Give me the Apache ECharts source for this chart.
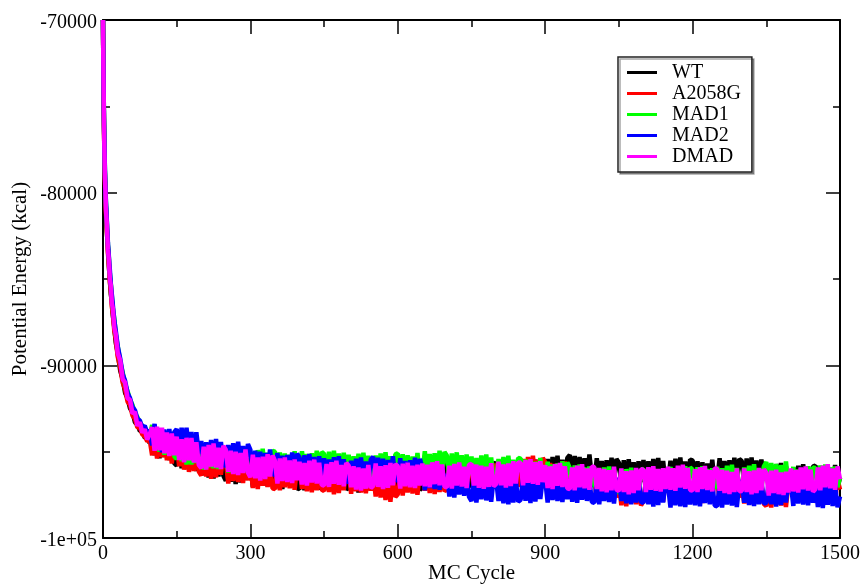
<!DOCTYPE html>
<html>
<head>
<meta charset="utf-8">
<title>Potential Energy vs MC Cycle</title>
<script src="https://cdn.jsdelivr.net/npm/echarts@6/dist/echarts.min.js"></script>
<style>
  html, body { margin: 0; padding: 0; background: #fff; }
  #chart { width: 863px; height: 584px; }
</style>
</head>
<body>
<div id="chart"></div>
<script>
// Monte Carlo cycles at which the potential energy was sampled
const earlyCycles = [0,1,2,3,4,5,6,8,10,12,14,16,18,20,23,26,30,35,40,45,50,55,60,65,70,75,80,85,90,95];
const sampleStep = 5;
const lastCycle = 1500;

// Potential energy (kcal) per system
const wtEnergy = [
  -70000,-73600,-76100,-78000,-79200,-80300,-81000,-82300,-83200,-84300,
  -85000,-85900,-86300,-87100,-87800,-88700,-89300,-90300,-90800,-91600,
  -91900,-92500,-92700,-93300,-93400,-93800,-93800,-94200,-94200,-94500,
  -93830,-95210,-94020,-95380,-93990,-95310,-94040,-95490,-94330,-95670,
  -95810,-94600,-95960,-94560,-95840,-94550,-95970,-94850,-96120,-94810,
  -95100,-96360,-95150,-96490,-95210,-96550,-95280,-96440,-95070,-96400,
  -96680,-95380,-96740,-95540,-96870,-95490,-96790,-95350,-96640,-95420,
  -95740,-97040,-95600,-96900,-95540,-96960,-95710,-97010,-95660,-96860,
  -95780,-97100,-95860,-97160,-95720,-96980,-95660,-97050,-95840,-97120,
  -97160,-95920,-97240,-95810,-97060,-95730,-97120,-95970,-97200,-95860,
  -95800,-97060,-95850,-97190,-95910,-97250,-95980,-97140,-95770,-97100,
  -97180,-95880,-97240,-96040,-97370,-95990,-97290,-95850,-97140,-95920,
  -95940,-97240,-95800,-97100,-95740,-97160,-95910,-97210,-95860,-97060,
  -95880,-97200,-95960,-97260,-95820,-97080,-95760,-97150,-95940,-97220,
  -97060,-95820,-97140,-95710,-96960,-95630,-97020,-95870,-97100,-95760,
  -95700,-96960,-95750,-97090,-95810,-97150,-95880,-97040,-95670,-97000,
  -96880,-95580,-96940,-95740,-97070,-95690,-96990,-95550,-96840,-95620,
  -95740,-97040,-95600,-96900,-95540,-96960,-95710,-97010,-95660,-96860,
  -95580,-96900,-95660,-96960,-95520,-96780,-95460,-96850,-95640,-96920,
  -96660,-95420,-96740,-95310,-96560,-95230,-96620,-95470,-96700,-95360,
  -95200,-96460,-95250,-96590,-95310,-96650,-95380,-96540,-95170,-96500,
  -96680,-95380,-96740,-95540,-96870,-95490,-96790,-95350,-96640,-95420,
  -95640,-96940,-95500,-96800,-95440,-96860,-95610,-96910,-95560,-96760,
  -95480,-96800,-95560,-96860,-95420,-96680,-95360,-96750,-95540,-96820,
  -96760,-95520,-96840,-95410,-96660,-95330,-96720,-95570,-96800,-95460,
  -95500,-96760,-95550,-96890,-95610,-96950,-95680,-96840,-95470,-96800,
  -96680,-95380,-96740,-95540,-96870,-95490,-96790,-95350,-96640,-95420,
  -95540,-96840,-95400,-96700,-95340,-96760,-95510,-96810,-95460,-96660,
  -95780,-97100,-95860,-97160,-95720,-96980,-95660,-97050,-95840,-97120,
  -97160,-95920,-97240,-95810,-97060,-95730,-97120,-95970,-97200,-95860,
  -95800,-97060,-95850,-97190,-95910,-97250,-95980,-97140,-95770,-97100,
  -96500
];

const a2058gEnergy = [
  -70000,-73700,-76200,-78100,-79300,-80200,-81100,-82200,-83500,-84200,
  -85200,-85700,-86600,-87000,-88000,-88500,-89500,-90100,-91000,-91400,
  -92100,-92300,-92900,-93100,-93600,-93600,-94000,-94100,-94400,-94300,
  -95210,-94030,-95400,-94030,-95330,-94060,-95500,-94410,-95690,-94410,
  -94550,-95840,-94670,-96040,-94790,-96170,-94930,-96120,-94790,-96150,
  -96380,-95080,-96440,-95240,-96570,-95190,-96490,-95050,-96340,-95120,
  -95540,-96840,-95400,-96700,-95340,-96760,-95510,-96810,-95460,-96660,
  -95780,-97100,-95860,-97160,-95720,-96980,-95660,-97050,-95840,-97120,
  -97160,-95920,-97240,-95810,-97060,-95730,-97120,-95970,-97200,-95860,
  -95900,-97160,-95950,-97290,-96010,-97350,-96080,-97240,-95870,-97200,
  -97280,-95980,-97340,-96140,-97470,-96090,-97390,-95950,-97240,-96020,
  -96140,-97440,-96000,-97300,-95940,-97360,-96110,-97410,-96060,-97260,
  -96280,-97600,-96360,-97660,-96220,-97800,-96160,-97900,-96340,-97620,
  -97460,-96220,-97540,-96110,-97360,-96030,-97420,-96270,-97500,-96160,
  -96000,-97260,-96050,-97390,-96110,-97450,-96180,-97340,-95970,-97300,
  -97180,-95880,-97240,-96040,-97370,-95990,-97290,-95850,-97140,-95920,
  -95940,-97240,-95800,-97100,-95740,-97160,-95910,-97210,-95860,-97060,
  -95680,-97000,-95760,-97060,-95620,-96880,-95560,-96950,-95740,-97020,
  -96660,-95420,-96740,-95310,-96560,-95230,-96620,-95470,-96700,-95360,
  -95600,-96860,-95650,-96990,-95710,-97050,-95780,-96940,-95570,-96900,
  -97380,-96080,-97440,-96240,-97570,-96190,-97490,-96050,-97340,-96120,
  -96540,-97840,-96400,-97700,-96340,-97760,-96510,-97810,-96460,-97660,
  -96780,-98100,-96860,-98160,-96720,-97980,-96660,-98050,-96840,-98120,
  -97860,-96620,-97940,-96510,-97760,-96430,-97820,-96670,-97900,-96560,
  -96400,-97660,-96450,-97790,-96510,-97850,-96580,-97740,-96370,-97700,
  -97780,-96480,-97840,-96640,-97970,-96590,-97890,-96450,-97740,-96520,
  -96540,-97840,-96400,-97700,-96340,-97760,-96510,-97810,-96460,-97660,
  -96680,-98000,-96760,-98060,-96620,-97880,-96560,-97950,-96740,-98020,
  -98160,-96920,-98240,-96810,-98060,-96730,-98120,-96970,-98200,-96860,
  -96500,-97760,-96550,-97890,-96610,-97950,-96680,-97840,-96470,-97800,
  -97880,-96580,-97940,-96740,-98070,-96690,-97990,-96550,-97840,-96620,
  -97200
];

const mad1Energy = [
  -70000,-73300,-75800,-77600,-78800,-79900,-80600,-81800,-83000,-83800,
  -84700,-85300,-86000,-86700,-87300,-88200,-88900,-89800,-90400,-91100,
  -91500,-92000,-92300,-92800,-93000,-93300,-93500,-93800,-93800,-94100,
  -93450,-94770,-93610,-95010,-93780,-95180,-93960,-95180,-93860,-95250,
  -95430,-94160,-95560,-94390,-95750,-94410,-95740,-94330,-95660,-94470,
  -94740,-96040,-94600,-95900,-94540,-95960,-94710,-96010,-94660,-95860,
  -94880,-96200,-94960,-96260,-94820,-96080,-94760,-96150,-94940,-96220,
  -96260,-95020,-96340,-94910,-96160,-94830,-96220,-95070,-96300,-94960,
  -95000,-96260,-95050,-96390,-95110,-96450,-95180,-96340,-94970,-96300,
  -96280,-94980,-96340,-95140,-96470,-95090,-96390,-94950,-96240,-95020,
  -95140,-96440,-95000,-96300,-94940,-96360,-95110,-96410,-95060,-96260,
  -95180,-96500,-95260,-96560,-95120,-96380,-95060,-96450,-95240,-96520,
  -96460,-95220,-96540,-95110,-96360,-95030,-96420,-95270,-96500,-95160,
  -95100,-96360,-95150,-96490,-95210,-96550,-95280,-96440,-95070,-96400,
  -96280,-94980,-96340,-95140,-96470,-95090,-96390,-94950,-96240,-95020,
  -95240,-96540,-95100,-96400,-95040,-96460,-95210,-96510,-95160,-96360,
  -95280,-96600,-95360,-96660,-95220,-96480,-95160,-96550,-95340,-96620,
  -96660,-95420,-96740,-95310,-96560,-95230,-96620,-95470,-96700,-95360,
  -95400,-96660,-95450,-96790,-95510,-96850,-95580,-96740,-95370,-96700,
  -96880,-95580,-96940,-95740,-97070,-95690,-96990,-95550,-96840,-95620,
  -95940,-97240,-95800,-97100,-95740,-97160,-95910,-97210,-95860,-97060,
  -95980,-97300,-96060,-97360,-95920,-97180,-95860,-97250,-96040,-97320,
  -97360,-96120,-97440,-96010,-97260,-95930,-97320,-96170,-97400,-96060,
  -96000,-97260,-96050,-97390,-96110,-97450,-96180,-97340,-95970,-97300,
  -97180,-95880,-97240,-96040,-97370,-95990,-97290,-95850,-97140,-95920,
  -96040,-97340,-95900,-97200,-95840,-97260,-96010,-97310,-95960,-97160,
  -95880,-97200,-95960,-97260,-95820,-97080,-95760,-97150,-95940,-97220,
  -97160,-95920,-97240,-95810,-97060,-95730,-97120,-95970,-97200,-95860,
  -95600,-96860,-95650,-96990,-95710,-97050,-95780,-96940,-95570,-96900,
  -97180,-95880,-97240,-96040,-97370,-95990,-97290,-95850,-97140,-95920,
  -95940,-97240,-95800,-97100,-95740,-97160,-95910,-97210,-95860,-97060,
  -96500
];

const mad2Energy = [
  -70000,-73200,-75700,-77500,-78700,-79800,-80500,-81700,-82900,-83700,
  -84500,-85300,-85900,-86500,-87400,-88000,-88900,-89600,-90500,-90900,
  -91600,-91900,-92400,-92600,-93100,-93200,-93600,-93500,-93900,-93800,
  -94630,-93390,-94800,-93660,-95040,-93720,-95070,-93690,-95030,-93870,
  -93690,-95020,-93620,-94950,-93620,-95080,-93860,-95190,-93880,-95110,
  -94380,-95700,-94460,-95760,-94320,-95580,-94260,-95650,-94440,-95720,
  -95860,-94620,-95940,-94510,-95760,-94430,-95820,-94670,-95900,-94560,
  -94900,-96160,-94950,-96290,-95010,-96350,-95080,-96240,-94870,-96200,
  -96380,-95080,-96440,-95240,-96570,-95190,-96490,-95050,-96340,-95120,
  -95340,-96640,-95200,-96500,-95140,-96560,-95310,-96610,-95260,-96460,
  -95380,-96700,-95460,-96760,-95320,-96580,-95260,-96650,-95440,-96720,
  -96760,-95520,-96840,-95410,-96660,-95330,-96720,-95570,-96800,-95460,
  -95300,-96560,-95350,-96690,-95410,-96750,-95480,-96640,-95270,-96600,
  -96680,-95380,-96740,-95540,-96870,-95490,-96790,-95350,-96640,-95420,
  -95940,-97240,-95800,-97100,-95740,-97160,-95910,-97210,-95860,-97060,
  -96280,-97600,-96360,-97660,-96220,-97480,-96160,-97550,-96340,-97620,
  -97860,-96620,-97940,-96510,-97760,-96430,-97820,-96670,-97900,-96560,
  -96600,-97860,-96650,-97990,-96710,-98050,-96780,-97940,-96570,-97900,
  -97780,-96480,-97840,-96640,-97970,-96590,-97890,-96450,-97740,-96520,
  -96640,-97940,-96500,-97800,-96440,-97860,-96610,-97910,-96560,-97760,
  -96580,-97900,-96660,-97960,-96520,-97780,-96460,-97850,-96640,-97920,
  -97960,-96720,-98040,-96610,-97860,-96530,-97920,-96770,-98000,-96660,
  -96600,-97860,-96650,-97990,-96710,-98050,-96780,-97940,-96570,-97900,
  -97980,-96680,-98040,-96840,-98170,-96790,-98090,-96650,-97940,-96720,
  -96940,-98240,-96800,-98100,-96740,-98160,-96910,-98210,-96860,-98060,
  -96780,-98100,-96860,-98160,-96720,-97980,-96660,-98050,-96840,-98120,
  -98160,-96920,-98240,-96810,-98060,-96730,-98120,-96970,-98200,-96860,
  -96700,-97960,-96750,-98090,-96810,-98150,-96880,-98040,-96670,-98000,
  -97980,-96680,-98040,-96840,-98170,-96790,-98090,-96650,-97940,-96720,
  -96840,-98140,-96700,-98000,-96640,-98060,-96810,-98110,-96760,-97960,
  -96880,-98200,-96960,-98260,-96820,-98080,-96760,-98150,-96940,-98220,
  -97600
];

const dmadEnergy = [
  -70000,-73400,-76100,-77700,-79200,-79900,-81000,-81900,-83300,-83900,
  -85000,-85400,-86400,-86700,-87800,-88200,-89300,-89700,-90800,-91000,
  -91900,-92000,-92800,-92700,-93500,-93300,-93900,-93700,-94300,-94000,
  -93590,-94950,-93560,-94920,-93610,-95090,-93890,-95250,-93950,-95210,
  -94130,-95480,-94280,-95610,-94200,-95500,-94210,-95630,-94460,-95770,
  -95960,-94720,-96040,-94610,-95860,-94530,-95920,-94770,-96000,-94660,
  -94900,-96160,-94950,-96290,-95010,-96350,-95080,-96240,-94870,-96200,
  -96480,-95180,-96540,-95340,-96670,-95290,-96590,-95150,-96440,-95220,
  -95540,-96840,-95400,-96700,-95340,-96760,-95510,-96810,-95460,-96660,
  -95580,-96900,-95660,-96960,-95520,-96780,-95460,-96850,-95640,-96920,
  -96960,-95720,-97040,-95610,-96860,-95530,-96920,-95770,-97000,-95660,
  -95800,-97060,-95850,-97190,-95910,-97250,-95980,-97140,-95770,-97100,
  -96980,-95680,-97040,-95840,-97170,-95790,-97090,-95650,-96940,-95720,
  -95840,-97140,-95700,-97000,-95640,-97060,-95810,-97110,-95760,-96960,
  -95680,-97000,-95760,-97060,-95620,-96880,-95560,-96950,-95740,-97020,
  -97060,-95820,-97140,-95710,-96960,-95630,-97020,-95870,-97100,-95760,
  -95700,-96960,-95750,-97090,-95810,-97150,-95880,-97040,-95670,-97000,
  -96880,-95580,-96940,-95740,-97070,-95690,-96990,-95550,-96840,-95620,
  -95640,-96940,-95500,-96800,-95440,-96860,-95610,-96910,-95560,-96760,
  -95780,-97100,-95860,-97160,-95720,-96980,-95660,-97050,-95840,-97120,
  -97160,-95920,-97240,-95810,-97060,-95730,-97120,-95970,-97200,-95860,
  -95900,-97160,-95950,-97290,-96010,-97350,-96080,-97240,-95870,-97200,
  -97280,-95980,-97340,-96140,-97470,-96090,-97390,-95950,-97240,-96020,
  -96040,-97340,-95900,-97200,-95840,-97260,-96010,-97310,-95960,-97160,
  -95880,-97200,-95960,-97260,-95820,-97080,-95760,-97150,-95940,-97220,
  -97260,-96020,-97340,-95910,-97160,-95830,-97220,-96070,-97300,-95960,
  -96000,-97260,-96050,-97390,-96110,-97450,-96180,-97340,-95970,-97300,
  -97280,-95980,-97340,-96140,-97470,-96090,-97390,-95950,-97240,-96020,
  -96240,-97540,-96100,-97400,-96040,-97460,-96210,-97510,-96160,-97360,
  -95980,-97300,-96060,-97360,-95920,-97180,-95860,-97250,-96040,-97320,
  -97160,-95920,-97240,-95810,-97060,-95730,-97120,-95970,-97200,-95860,
  -96600
];

const seriesNames = ['WT', 'A2058G', 'MAD1', 'MAD2', 'DMAD'];
const seriesColors = ['#000000', '#ff0000', '#00ff00', '#0000ff', '#ff00ff'];
const seriesValues = [wtEnergy, a2058gEnergy, mad1Energy, mad2Energy, dmadEnergy];

// Axis ticks and their printed labels
const yTicks = [-100000, -90000, -80000, -70000];
const yTickLabels = ['-1e+05', '-90000', '-80000', '-70000'];

// Full cycle list: dense start, then a regular step
const cycles = earlyCycles.slice();
for (let c = 100; c <= lastCycle; c += sampleStep) cycles.push(c);

const serif = 'Liberation Serif';
const frame = { show: true, onZero: false, lineStyle: { color: '#000', width: 2 } };

function xAxisDef(position, showLabels) {
  return {
    type: 'value', position: position, min: 0, max: 1500, interval: 300,
    axisLine: frame,
    axisTick: { show: true, inside: true, length: 14, lineStyle: { color: '#000', width: 1.5 } },
    minorTick: { show: true, splitNumber: 2, length: 7, lineStyle: { color: '#000', width: 1.5 } },
    axisLabel: {
      show: showLabels, color: '#000', fontFamily: serif, fontSize: 20, margin: 6,
      formatter: function (v) { return String(v); }
    },
    splitLine: { show: false },
    name: showLabels ? 'MC Cycle' : '',
    nameLocation: 'middle', nameGap: 35, nameMoveOverlap: false,
    nameTextStyle: { color: '#000', fontFamily: serif, fontSize: 21, verticalAlign: 'middle' }
  };
}

function yAxisDef(position, showLabels) {
  return {
    type: 'value', position: position, min: -100000, max: -70000, interval: 10000,
    axisLine: frame,
    axisTick: { show: true, inside: true, length: 14, lineStyle: { color: '#000', width: 1.5 } },
    minorTick: { show: true, splitNumber: 2, length: 7, lineStyle: { color: '#000', width: 1.5 } },
    axisLabel: {
      show: showLabels, color: '#000', fontFamily: serif, fontSize: 20, margin: 6,
      formatter: function (v) {
        const i = yTicks.indexOf(v);
        return '{t|' + (i >= 0 ? yTickLabels[i] : String(v)) + '}';
      },
      rich: { t: { fontFamily: serif, fontSize: 20, color: '#000', padding: [5, 0, 0, 0] } }
    },
    splitLine: { show: false },
    name: showLabels ? 'Potential Energy (kcal)' : '',
    nameLocation: 'middle', nameGap: 83, nameRotate: 90, nameMoveOverlap: false,
    nameTextStyle: { color: '#000', fontFamily: serif, fontSize: 21, verticalAlign: 'middle' }
  };
}

const chart = echarts.init(document.getElementById('chart'), null, { renderer: 'canvas' });

chart.setOption({
  animation: false,
  backgroundColor: '#fff',
  grid: { left: 103, right: 23, top: 20, bottom: 46, containLabel: false, outerBoundsMode: 'none' },
  xAxis: [xAxisDef('bottom', true), xAxisDef('top', false)],
  yAxis: [yAxisDef('left', true), yAxisDef('right', false)],
  legend: {
    orient: 'vertical', left: 618, top: 57,
    padding: [5, 11, 5, 9],
    icon: 'rect',
    itemWidth: 30, itemHeight: 3, itemGap: 0,
    backgroundColor: '#fff',
    borderColor: '#222', borderWidth: 1.5,
    shadowColor: 'rgba(0,0,0,0.35)', shadowBlur: 0, shadowOffsetX: 2, shadowOffsetY: 2,
    textStyle: { color: '#000', fontFamily: serif, fontSize: 20, lineHeight: 21, padding: [0, 0, 0, 10] },
    data: seriesNames
  },
  series: seriesNames.map(function (name, s) {
    return {
      name: name, type: 'line', xAxisIndex: 0, yAxisIndex: 0,
      symbol: 'none', showSymbol: false, silent: true,
      color: seriesColors[s],
      lineStyle: { color: seriesColors[s], width: 4.5 },
      emphasis: { disabled: true },
      data: cycles.map(function (c, i) { return [c, seriesValues[s][i]]; })
    };
  })
});
</script>
</body>
</html>
